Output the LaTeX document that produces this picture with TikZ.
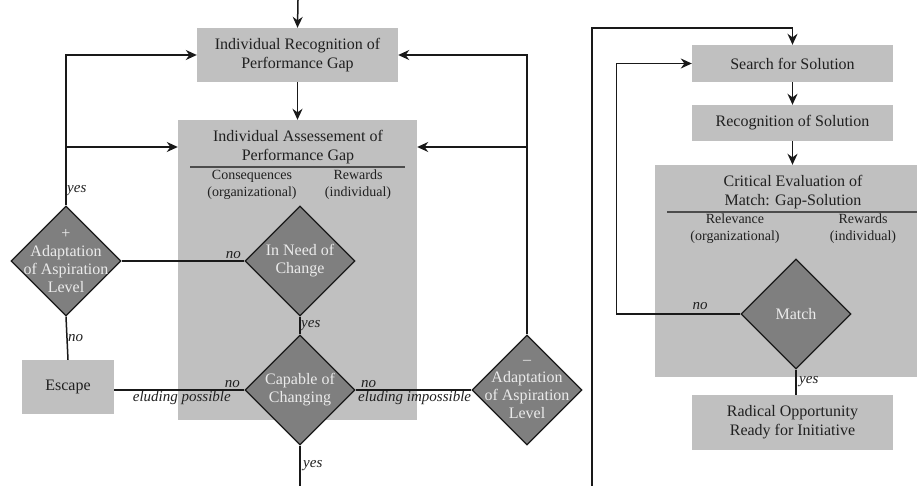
\documentclass[tikz,border=0pt]{standalone}
\usepackage{fontspec}
\setmainfont{Liberation Serif}
\usetikzlibrary{shapes.geometric,arrows.meta}
\definecolor{boxgray}{HTML}{C0C0C0}
\definecolor{diagray}{HTML}{7F7F7F}
\definecolor{inkgray}{HTML}{202020}

\begin{document}
\begin{tikzpicture}[
  x=1pt, y=-1pt,
  every node/.style={text=inkgray},
  box/.style={fill=boxgray, inner sep=0pt, align=center,
    font=\fontsize{16}{19}\selectfont},
  decision/.style={diamond, draw=black!90, fill=diagray, line width=1.3pt,
    minimum width=110pt, minimum height=110pt, inner sep=0pt},
  dlabel/.style={text=white!92!black, align=center, inner sep=0pt,
    font=\fontsize{16}{18}\selectfont},
  head/.style={align=center, inner sep=0pt, font=\fontsize{16}{19}\selectfont},
  sub/.style={align=center, inner sep=0pt, font=\fontsize{14}{17}\selectfont},
  tag/.style={inner sep=1pt, font=\fontsize{15}{17}\selectfont\itshape},
  flow/.style={draw=black!90, line width=1.5pt},
  arr/.style={flow, -{Stealth[length=11pt,width=10pt]}},
  sep/.style={draw=black!70, line width=1.2pt}
]
\useasboundingbox (0,0) rectangle (917,486);

% left part
\node[box, minimum width=201pt, minimum height=54pt] (recog) at (297.5,55)
  {Individual Recognition of\\Performance Gap};
\node[box, minimum width=239pt, minimum height=300pt] (assess) at (297.5,270) {};
\node[head] (assesst) at (298,147) {Individual Assessement of\\Performance Gap};
\draw[sep] (190,167) -- (405,167);
\node[sub] (conseq) at (252,185) {Consequences\\(organizational)};
\node[sub] (rewardl) at (358,185) {Rewards\\(individual)};

\node[decision, label={[dlabel]center:{In Need of\\Change}}] (need) at (300,261) {};
\node[decision, label={[dlabel]center:{Capable of\\Changing}}] (capable) at (300,390) {};
\node[decision, label={[dlabel]center:{+\\Adaptation\\of Aspiration\\Level}}] (plus) at (66,261) {};
\node[decision, label={[dlabel]center:{--\\Adaptation\\of Aspiration\\Level}}] (minus) at (527,390) {};
\node[box, minimum width=92pt, minimum height=54pt] (escape) at (68,387) {Escape};

\coordinate (entry) at (298,0);
\coordinate (exit) at (300,490);
\draw[arr] (entry) -- (recog.north);
\draw[arr] (recog.south) -- (assess.north -| recog.south);
\draw[arr] (plus.north) |- (recog.west);
\draw[arr] (plus.north |- assesst) -- (assess.west |- assesst);
\draw[arr] (minus.north) |- (recog.east);
\draw[arr] (minus.north |- assesst) -- (assess.east |- assesst);
\draw[flow] (plus.east) -- (need.west);
\draw[flow] (plus.south) -- (escape.north);
\draw[flow] (need.south) -- (capable.north);
\draw[flow] (escape.east |- capable.west) -- (capable.west);
\draw[flow] (capable.east) -- (minus.west);
\draw[flow] (capable.south) -- (exit);

\node[tag, anchor=west] (yesplus) at (66,191) {yes};
\node[tag, anchor=south east] (noneed) at (242,260) {no};
\node[tag, anchor=west] (noplus) at (67,338) {no};
\node[tag, anchor=west] (yesneed) at (300,326) {yes};
\node[tag, anchor=south east] (nocapl) at (241,389) {no};
\node[tag, anchor=north east] (elpos) at (232,390) {eluding possible};
\node[tag, anchor=south west] (nocapr) at (360,389) {no};
\node[tag, anchor=north west] (elimp) at (357,390) {eluding impossible};
\node[tag, anchor=west] (yescap) at (302,466) {yes};

% right part
\node[box, minimum width=201pt, minimum height=37pt] (search) at (792.5,63.5) {Search for Solution};
\node[box, minimum width=201pt, minimum height=36pt] (recsol) at (792.5,123) {Recognition of Solution};
\node[box, minimum width=275pt, minimum height=212pt] (critical) at (792.5,271) {};
\node[head] (criticalt) at (793,192) {Critical Evaluation of\\Match: Gap-Solution};
\draw[sep] (667,212) -- (930,212);
\node[sub] (relev) at (735,229) {Relevance\\(organizational)};
\node[sub] (rewardr) at (863,229) {Rewards\\(individual)};
\node[decision, label={[dlabel]center:Match}] (match) at (796,314) {};
\node[box, minimum width=201pt, minimum height=55pt] (radical) at (792.5,422.5)
  {Radical Opportunity\\Ready for Initiative};

\coordinate (loopin) at (592,490);
\coordinate (looptop) at (592,28);
\draw[arr] (loopin) -- (looptop) -| (search.north);
\draw[arr] (search.south) -- (recsol.north);
\draw[arr] (recsol.south) -- (critical.north -| recsol.south);
\draw[arr] (match.west) -- ++(-124,0) |- (search.west);
\draw[flow] (match.south) -- (radical.north -| match.south);

\node[tag, anchor=south] (nomatch) at (700,311) {no};
\node[tag, anchor=west] (yesmatch) at (798,382) {yes};
\end{tikzpicture}
\end{document}
